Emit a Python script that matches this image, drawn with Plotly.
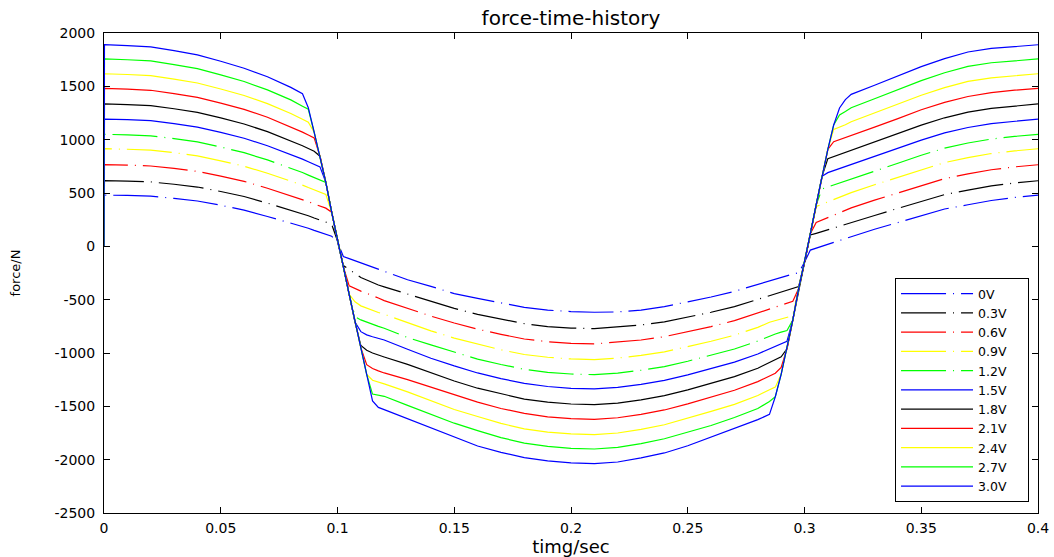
import plotly.graph_objects as go

# time axis (s)
TIME = [0, 0.0002, 0.01, 0.02, 0.03, 0.04, 0.05, 0.06, 0.07, 0.08, 0.085,
        0.0875, 0.09, 0.0925, 0.095, 0.0975, 0.1,
        0.1025, 0.105, 0.1075, 0.11, 0.1125, 0.115, 0.1175, 0.12,
        0.13, 0.14, 0.15, 0.16, 0.17, 0.18, 0.19, 0.2, 0.21, 0.22, 0.23, 0.24, 0.25, 0.26, 0.27, 0.28,
        0.285, 0.2875, 0.29, 0.2925, 0.295, 0.2975,
        0.3, 0.3025, 0.305, 0.3075, 0.31, 0.3125, 0.315, 0.3175, 0.32,
        0.33, 0.34, 0.35, 0.36, 0.37, 0.38, 0.39, 0.4]

LABELS = ["0V", "0.3V", "0.6V", "0.9V", "1.2V", "1.5V", "1.8V", "2.1V", "2.4V", "2.7V", "3.0V"]

F_0V = [0, 480, 477, 470, 450, 425, 385, 340, 280, 220, 190,
        170, 150, 132, 115, 95, 40,
        -95, -115, -135, -155, -175, -195, -215, -236,
        -313, -375, -443, -488, -533, -572, -598, -612, -618, -615, -598, -565, -520, -475, -422, -355,
        -325, -307, -290, -275, -260, -248,
        -150, -35, -18, 0, 18, 36, 54, 72, 90,
        160, 225, 290, 350, 390, 430, 458, 480]
F_03V = [0, 615, 611, 604, 582, 556, 514, 467, 405, 341, 308,
         287, 266, 247, 229, 208, 50,
         -180, -218, -255, -292, -315, -340, -362, -380,
         -447, -520, -582, -638, -685, -725, -752, -766, -772, -757, -737, -708, -666, -618, -565, -496,
         -464, -445, -425, -408, -392, -378,
         -150, 106, 122, 138, 154, 170, 186, 202, 218,
         289, 356, 424, 485, 527, 567, 594, 615]
F_06V = [0, 765, 761, 753, 730, 702, 658, 609, 545, 477, 441,
         419, 397, 377, 358, 320, 50,
         -190, -370, -398, -420, -440, -460, -485, -509,
         -584, -654, -719, -777, -825, -869, -894, -909, -915, -900, -878, -847, -802, -752, -697, -626,
         -590, -570, -550, -532, -515, -396,
         -150, 119, 224, 246, 269, 292, 315, 337, 360,
         433, 502, 572, 635, 679, 718, 745, 765]
F_09V = [0, 915, 910, 902, 878, 848, 802, 751, 685, 613, 574,
         551, 528, 507, 487, 320, 50,
         -190, -450, -520, -558, -580, -600, -620, -637,
         -717, -792, -860, -913, -970, -1014, -1040, -1056, -1062, -1047, -1023, -990, -943, -890, -833, -760,
         -712, -695, -680, -665, -650, -396,
         -150, 119, 373, 395, 416, 438, 459, 481, 503,
         577, 648, 720, 785, 832, 870, 895, 915]
F_12V = [0, 1050, 1045, 1036, 1010, 979, 931, 878, 810, 734, 692,
         668, 644, 622, 600, 320, 50,
         -190, -450, -660, -690, -712, -732, -750, -768,
         -855, -924, -994, -1057, -1108, -1153, -1181, -1197, -1203, -1188, -1162, -1127, -1077, -1022, -963, -888,
         -840, -822, -805, -790, -690, -396,
         -150, 119, 390, 538, 556, 575, 593, 612, 630,
         706, 779, 854, 920, 969, 1006, 1031, 1050]
F_15V = [0, 1193, 1187, 1178, 1151, 1118, 1068, 1013, 943, 863, 818,
         793, 768, 745, 600, 320, 50,
         -190, -450, -710, -800, -830, -848, -864, -878,
         -965, -1049, -1121, -1187, -1240, -1284, -1314, -1331, -1337, -1322, -1294, -1257, -1205, -1147, -1086, -1009,
         -962, -940, -915, -890, -690, -396,
         -150, 119, 390, 656, 691, 710, 729, 747, 766,
         843, 918, 996, 1063, 1114, 1151, 1175, 1193]
F_18V = [0, 1335, 1329, 1319, 1290, 1256, 1204, 1147, 1075, 991, 943,
         917, 891, 845, 600, 320, 50,
         -190, -450, -710, -930, -975, -1000, -1020, -1037,
         -1106, -1186, -1262, -1330, -1384, -1432, -1461, -1478, -1484, -1469, -1439, -1400, -1345, -1285, -1222, -1143,
         -1090, -1065, -1035, -960, -690, -396,
         -150, 119, 390, 656, 822, 842, 861, 880, 900,
         979, 1056, 1136, 1205, 1258, 1294, 1318, 1335]
F_21V = [0, 1480, 1473, 1463, 1432, 1397, 1343, 1284, 1210, 1122, 1071,
         1044, 1017, 845, 600, 320, 50,
         -190, -450, -710, -950, -1110, -1145, -1168, -1187,
         -1250, -1320, -1393, -1460, -1520, -1566, -1598, -1616, -1622, -1607, -1575, -1534, -1477, -1414, -1349, -1268,
         -1215, -1190, -1135, -960, -690, -396,
         -150, 119, 390, 656, 910, 981, 1000, 1019, 1038,
         1118, 1197, 1280, 1350, 1405, 1441, 1464, 1480]
F_24V = [0, 1618, 1611, 1600, 1568, 1531, 1475, 1414, 1338, 1246, 1192,
         1164, 1070, 845, 600, 320, 50,
         -190, -450, -710, -950, -1200, -1255, -1275, -1290,
         -1364, -1444, -1530, -1595, -1660, -1711, -1741, -1759, -1765, -1750, -1716, -1673, -1613, -1548, -1481, -1398,
         -1345, -1320, -1200, -960, -690, -396,
         -150, 119, 390, 656, 910, 1096, 1115, 1140, 1168,
         1250, 1331, 1416, 1488, 1546, 1580, 1602, 1618]
F_27V = [0, 1757, 1749, 1738, 1704, 1666, 1608, 1545, 1467, 1373, 1314,
         1285, 1070, 845, 600, 320, 50,
         -190, -450, -710, -950, -1200, -1385, -1396, -1406,
         -1491, -1575, -1658, -1728, -1793, -1845, -1875, -1894, -1900, -1885, -1849, -1804, -1742, -1680, -1605, -1520,
         -1455, -1410, -1200, -960, -690, -396,
         -150, 119, 390, 656, 910, 1138, 1232, 1265, 1300,
         1383, 1466, 1554, 1627, 1687, 1721, 1742, 1757]
F_30V = [0, 1890, 1882, 1870, 1835, 1795, 1735, 1670, 1590, 1490, 1430,
         1300, 1070, 845, 600, 320, 50,
         -190, -450, -710, -950, -1200, -1450, -1510, -1531,
         -1615, -1704, -1789, -1872, -1932, -1981, -2012, -2031, -2037, -2022, -1984, -1937, -1870, -1790, -1710, -1625,
         -1575, -1410, -1200, -960, -690, -396,
         -150, 119, 390, 656, 910, 1138, 1297, 1375, 1425,
         1510, 1595, 1685, 1760, 1822, 1855, 1876, 1890]

SERIES = [F_0V, F_03V, F_06V, F_09V, F_12V, F_15V, F_18V, F_21V, F_24V, F_27V, F_30V]

X_TICKS = [0, 0.05, 0.1, 0.15, 0.2, 0.25, 0.3, 0.35, 0.4]
X_TICKTEXT = ["0", "0.05", "0.1", "0.15", "0.2", "0.25", "0.3", "0.35", "0.4"]
Y_TICKS = [-2500, -2000, -1500, -1000, -500, 0, 500, 1000, 1500, 2000]
Y_TICKTEXT = ["-2500", "-2000", "-1500", "-1000", "-500", "0", "500", "1000", "1500", "2000"]

PALETTE = ["#0000FF", "#000000", "#FF0000", "#FFFF00", "#00FF00"]
DASHDOT = "45px,7px,1px,7px"
PAD = "\u00a0\u00a0\u00a0\u00a0"

for s in SERIES:
    assert len(s) == len(TIME), (len(s), len(TIME))

fig = go.Figure()
for i, (name, ys) in enumerate(zip(LABELS, SERIES)):
    fig.add_trace(go.Scatter(
        x=TIME, y=ys, mode="lines", name=name + PAD,
        line=dict(color=PALETTE[i % 5], width=1.2,
                  dash=DASHDOT if i < 5 else "solid"),
    ))

FONT = "DejaVu Sans"
axis_common = dict(
    showline=True, linecolor="black", linewidth=1, mirror="allticks",
    ticks="inside", ticklen=6, tickcolor="black", tickwidth=1,
    showgrid=False, zeroline=False,
    tickfont=dict(family=FONT, size=14, color="black"),
)

fig.update_layout(
    template="none",
    width=1054, height=557,
    margin=dict(l=104, r=16, t=33, b=44, autoexpand=False),
    paper_bgcolor="white", plot_bgcolor="white",
    title=dict(text="force-time-history", x=0.5, xref="paper", xanchor="center",
               y=1 - 18 / 557, yref="container", yanchor="middle",
               font=dict(family=FONT, size=20, color="black")),
    xaxis=dict(range=[0, 0.4], tickvals=X_TICKS, ticktext=X_TICKTEXT,
               title=dict(text="timg/sec", standoff=9,
                          font=dict(family=FONT, size=18, color="black")),
               ticklabelstandoff=2,
               **axis_common),
    yaxis=dict(range=[-2500, 2000], tickvals=Y_TICKS, ticktext=Y_TICKTEXT,
               title=dict(text="force/N", standoff=30,
                          font=dict(family=FONT, size=13, color="black")),
               ticklabelstandoff=5,
               **axis_common),
    legend=dict(x=0.9904, y=0.0229, xanchor="right", yanchor="bottom",
                bgcolor="white", bordercolor="black", borderwidth=1,
                font=dict(family=FONT, size=12.5, color="black"),
                itemwidth=72, tracegroupgap=0),
    showlegend=True,
)

fig.write_html("out.html")
